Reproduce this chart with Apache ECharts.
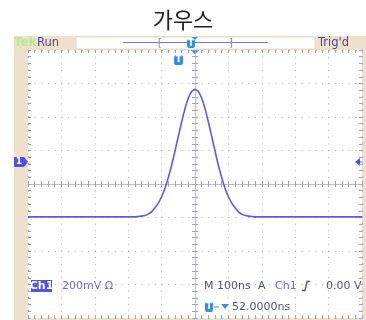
<!DOCTYPE html>
<html>
<head>
<meta charset="utf-8">
<script src="https://cdn.jsdelivr.net/npm/echarts@6/dist/echarts.min.js"></script>
<style>
  html, body { margin: 0; padding: 0; background: #fff; }
  #chart { width: 366px; height: 320px; }
</style>
</head>
<body>
<div id="chart"></div>
<script>
// time (ns) relative to trigger, and Ch1 level in divisions (200 mV/div)
const timesNs = [-500, -400, -300, -250, -200, -190, -180, -170, -160, -150, -140, -130, -120, -110, -100,
  -90, -80, -70, -60, -50, -40, -30, -20, -10, 0, 10, 20, 30, 40, 50, 60, 70, 80, 90, 100,
  110, 120, 130, 140, 150, 160, 170, 180, 190, 200, 210, 250, 300, 400, 500];
const volts = [-0.98, -0.98, -0.98, -0.98, -0.98, -0.98, -0.98, -0.97, -0.96, -0.94, -0.90, -0.83, -0.71, -0.57, -0.38,
  -0.13, 0.19, 0.56, 0.98, 1.42, 1.85, 2.25, 2.56, 2.76, 2.83, 2.76, 2.56, 2.25, 1.85, 1.42, 0.98, 0.56, 0.19, -0.13, -0.38,
  -0.57, -0.71, -0.83, -0.90, -0.94, -0.96, -0.97, -0.98, -0.98, -0.98, -0.98, -0.98, -0.98, -0.98, -0.98];

const xTicks = { min: -500, max: 500, interval: 100 };
const yTicks = { min: -4, max: 4, interval: 1 };

const chart = echarts.init(document.getElementById('chart'));

const dotted = [1, 5.68];
const tan = '#eee0cd';
const font = 'DejaVu Sans';

function axis(base, position, onZero, inside, extra) {
  return Object.assign({
    type: 'value',
    position: position,
    axisLine: { show: true, onZero: onZero, lineStyle: { color: onZero ? '#c0c0d4' : '#a8a8be', type: onZero ? 'solid' : dotted, width: 1 } },
    axisTick: { show: true, inside: inside, length: 3, lineStyle: { color: '#a0a0b8' } },
    minorTick: { show: true, splitNumber: 5, length: 3, lineStyle: { color: '#a0a0b8' } },
    axisLabel: { show: false },
    splitLine: { show: false },
  }, base, extra || {});
}

const gridSplit = { splitLine: { show: true, lineStyle: { color: '#a8a8bc', type: dotted, width: 1 } } };

const option = {
  animation: false,
  backgroundColor: '#fff',
  title: {
    text: '가우스',
    left: 'center',
    top: 4,
    textStyle: { fontFamily: 'Noto Sans CJK KR', fontWeight: 'normal', fontSize: 22, color: '#222' },
  },
  grid: { left: 28, right: 4, top: 50, bottom: 2, show: true, backgroundColor: '#fff', borderWidth: 0 },
  xAxis: [
    axis(xTicks, 'bottom', false, true, gridSplit),
    axis(xTicks, 'top', false, true),
    axis(xTicks, 'bottom', true, false),
    axis(xTicks, 'top', true, false),
  ],
  yAxis: [
    axis(yTicks, 'left', false, true, gridSplit),
    axis(yTicks, 'right', false, true),
    axis(yTicks, 'left', true, false),
    axis(yTicks, 'right', true, false),
  ],
  series: [{
    type: 'line',
    xAxisIndex: 0,
    yAxisIndex: 0,
    data: timesNs.map((t, i) => [t, volts[i]]),
    showSymbol: false,
    smooth: 0.2,
    lineStyle: { color: '#5a5aee', width: 1.6 },
    z: 5,
  }],
  graphic: [
    // scope frame
    { type: 'rect', z: -10, shape: { x: 14, y: 36, width: 352, height: 284 }, style: { fill: tan } },
    // top status bar
    { type: 'rect', shape: { x: 76, y: 37, width: 239, height: 12 }, style: { fill: '#fff', stroke: '#e4d8c8', lineWidth: 1 } },
    { type: 'line', shape: { x1: 123, y1: 42.5, x2: 268, y2: 42.5 }, style: { stroke: '#7474f0', lineWidth: 1 } },
    { type: 'text', style: { x: 160, y: 43, text: '[', font: '11px ' + font, fill: '#9090a0', verticalAlign: 'middle', align: 'center' } },
    { type: 'text', style: { x: 231, y: 43, text: ']', font: '11px ' + font, fill: '#9090a0', verticalAlign: 'middle', align: 'center' } },
    { type: 'polygon', shape: { points: [[192, 37], [198, 37], [195, 40]] }, style: { fill: '#3a8ee6' } },
    { type: 'rect', shape: { x: 187, y: 39, width: 8, height: 9, r: 2 }, style: { fill: '#3a8ee6' } },
    { type: 'text', style: { x: 191, y: 43.5, text: 'T', font: 'bold 8px ' + font, fill: '#fff', verticalAlign: 'middle', align: 'center' } },
    { type: 'text', style: { x: 14, y: 43, text: 'Tek', font: 'bold 12px ' + font, fill: '#b2ec88', verticalAlign: 'middle' } },
    { type: 'text', style: { x: 37, y: 43, text: 'Run', font: '11.5px ' + font, fill: '#4a4a98', verticalAlign: 'middle' } },
    { type: 'text', style: { x: 318, y: 43, text: "Trig'd", font: '11.5px ' + font, fill: '#4a4a98', verticalAlign: 'middle' } },
    // trigger position markers
    { type: 'polygon', shape: { points: [[190.5, 50], [199.5, 50], [195, 54]] }, style: { fill: '#3a8ee6' } },
    { type: 'rect', shape: { x: 174, y: 55, width: 9, height: 10, r: 2 }, style: { fill: '#3a8ee6' } },
    { type: 'text', style: { x: 178.5, y: 60, text: 'T', font: 'bold 9px ' + font, fill: '#fff', verticalAlign: 'middle', align: 'center' } },
    // channel 1 ground marker
    { type: 'polygon', shape: { points: [[14, 157], [24, 157], [28, 162], [24, 167], [14, 167]] }, style: { fill: '#5050e2' } },
    { type: 'text', style: { x: 19, y: 162, text: '1', font: 'bold 9px ' + font, fill: '#fff', verticalAlign: 'middle', align: 'center' } },
    // trigger level marker
    { type: 'polygon', shape: { points: [[355, 162], [360, 158], [360, 166]] }, style: { fill: '#5050e2' } },
    { type: 'line', shape: { x1: 360, y1: 162, x2: 362, y2: 162 }, style: { stroke: '#5050e2', lineWidth: 1 } },
    // bottom readouts
    { type: 'rect', shape: { x: 31, y: 280, width: 21, height: 12 }, style: { fill: '#5252e4' } },
    { type: 'text', style: { x: 41.5, y: 286, text: 'Ch1', font: 'bold 11px ' + font, fill: '#fff', verticalAlign: 'middle', align: 'center' } },
    { type: 'text', style: { x: 62, y: 286, text: '200mV Ω', font: '11px ' + font, fill: '#6a6ae6', verticalAlign: 'middle' } },
    { type: 'text', style: { x: 204, y: 286, text: 'M 100ns', font: '11px ' + font, fill: '#50507c', verticalAlign: 'middle' } },
    { type: 'text', style: { x: 258, y: 286, text: 'A', font: '11px ' + font, fill: '#50507c', verticalAlign: 'middle' } },
    { type: 'text', style: { x: 275, y: 286, text: 'Ch1', font: '11px ' + font, fill: '#6a6ae6', verticalAlign: 'middle' } },
    { type: 'polyline', shape: { points: [[302, 290.5], [305, 290.5], [307, 281.5], [310, 281.5]] }, style: { stroke: '#50507c', lineWidth: 1.3, fill: null } },
    { type: 'text', style: { x: 326, y: 286, text: '0.00 V', font: '11px ' + font, fill: '#50507c', verticalAlign: 'middle' } },
    { type: 'rect', shape: { x: 205, y: 302, width: 8, height: 10, r: 2 }, style: { fill: '#3a8ee6' } },
    { type: 'text', style: { x: 209, y: 307, text: 'T', font: 'bold 8px ' + font, fill: '#fff', verticalAlign: 'middle', align: 'center' } },
    { type: 'line', shape: { x1: 214, y1: 307, x2: 219, y2: 307 }, style: { stroke: '#3a8ee6', lineWidth: 1 } },
    { type: 'polygon', shape: { points: [[221, 304], [229, 304], [225, 309]] }, style: { fill: '#3a8ee6' } },
    { type: 'text', style: { x: 232, y: 307, text: '52.0000ns', font: '11px ' + font, fill: '#50507c', verticalAlign: 'middle' } },
  ],
};

chart.setOption(option);
</script>
</body>
</html>
